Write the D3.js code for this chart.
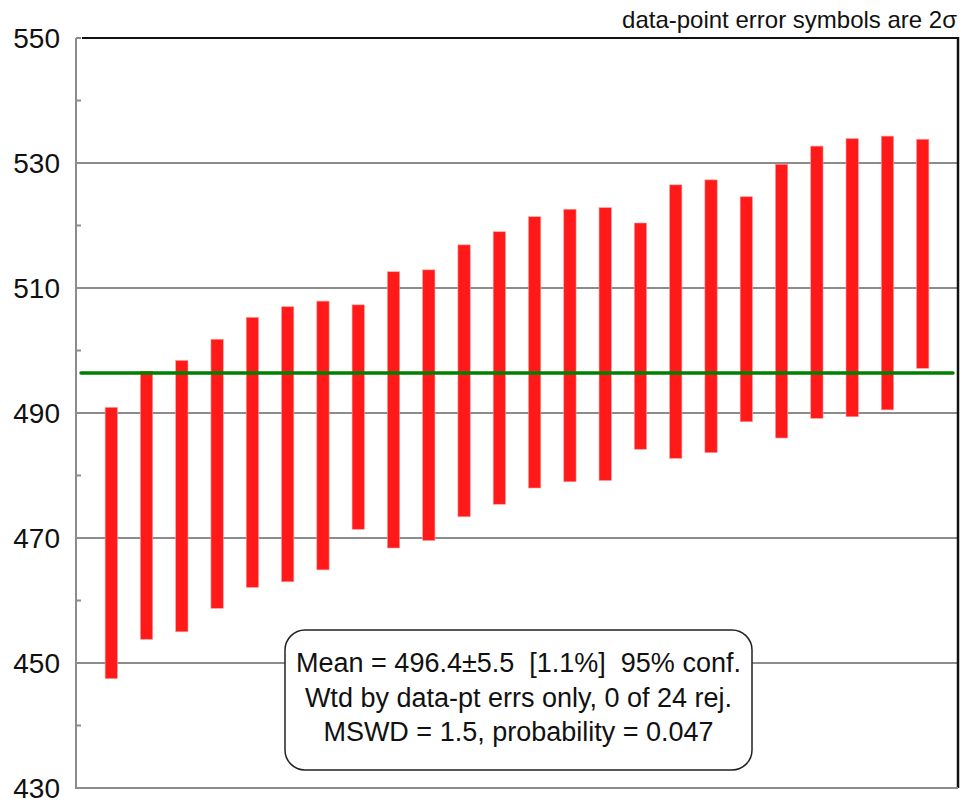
<!DOCTYPE html>
<html><head><meta charset="utf-8">
<script src="https://cdn.jsdelivr.net/npm/d3@7"></script>
<style>html,body{margin:0;padding:0;background:#fff;}svg{display:block;}</style>
</head><body>
<script>
const lows  = [447.5,453.8,455.0,458.75,462.1,463.0,464.9,471.4,468.4,469.6,473.4,475.4,478.0,479.0,479.2,484.2,482.75,483.65,488.6,486.0,489.15,489.4,490.5,497.15];
const highs = [490.9,496.7,498.4,501.8,505.3,507.0,507.9,507.3,512.6,512.9,516.9,519.0,521.4,522.6,522.85,520.4,526.5,527.3,524.6,529.8,532.7,533.9,534.3,533.8];
const majorTicks = [430,450,470,490,510,530,550];
const minorTicks = [440,460,480,500,520,540];
const meanValue = 496.4;
const boxLines = ["Mean = 496.4\u00b15.5  [1.1%]  95% conf.","Wtd by data-pt errs only, 0 of 24 rej.","MSWD = 1.5, probability = 0.047"];
const noteText = "data-point error symbols are 2\u03c3";

const W=964,H=803;
const L=76,R=958,T=38,B=788;
const svg=d3.select("body").append("svg").attr("width",W).attr("height",H);
const y=d3.scaleLinear().domain([430,550]).range([B,T]);
const x=d3.scaleLinear().domain([0,25]).range([L,R]);
const idx=d3.range(1,lows.length+1);
const FONT="Liberation Sans, Arial, sans-serif";

svg.append("g").selectAll("line").data(majorTicks.filter(d=>d>430&&d<550)).join("line")
  .attr("x1",L).attr("x2",R).attr("y1",d=>y(d)).attr("y2",d=>y(d))
  .attr("stroke","#8c8c8c").attr("stroke-width",2);
svg.append("g").selectAll("line").data(minorTicks).join("line")
  .attr("x1",L).attr("x2",L+5).attr("y1",d=>y(d)).attr("y2",d=>y(d))
  .attr("stroke","#8c8c8c").attr("stroke-width",2);
svg.append("line").attr("x1",L+6).attr("x2",R).attr("y1",T).attr("y2",T).attr("stroke","#111").attr("stroke-width",2);
svg.append("line").attr("x1",L).attr("x2",L+5).attr("y1",T).attr("y2",T).attr("stroke","#8c8c8c").attr("stroke-width",2);
svg.append("line").attr("x1",R).attr("x2",R).attr("y1",T-1).attr("y2",B).attr("stroke","#111").attr("stroke-width",2.5);
svg.append("line").attr("x1",L).attr("x2",L).attr("y1",T).attr("y2",B+1).attr("stroke","#8c8c8c").attr("stroke-width",2);
svg.append("line").attr("x1",L).attr("x2",R).attr("y1",B).attr("y2",B).attr("stroke","#8c8c8c").attr("stroke-width",2);

svg.append("g").selectAll("text").data(majorTicks).join("text")
  .attr("x",L-16).attr("y",d=>y(d)).attr("dy","0.36em").attr("text-anchor","end")
  .attr("font-family",FONT).attr("font-size",28).attr("fill","#111")
  .text(d=>d);

const bw=12.3;
svg.append("g").selectAll("rect").data(idx).join("rect")
  .attr("x",i=>x(i)-bw/2).attr("width",bw)
  .attr("y",i=>y(highs[i-1])).attr("height",i=>y(lows[i-1])-y(highs[i-1]))
  .attr("fill","#ff1919").attr("stroke","#ff9a9a").attr("stroke-width",0.6);

svg.append("line").attr("x1",L+5).attr("x2",R-5).attr("y1",y(meanValue)).attr("y2",y(meanValue))
  .attr("stroke","#008000").attr("stroke-width",3.5).attr("stroke-linecap","round");

svg.append("text").attr("x",R-1).attr("y",28).attr("text-anchor","end")
  .attr("font-family",FONT).attr("font-size",24).attr("fill","#111")
  .text(noteText);

const bx=285,by=630,bwid=467,bh=140;
svg.append("rect").attr("x",bx).attr("y",by).attr("width",bwid).attr("height",bh)
  .attr("rx",20).attr("ry",20).attr("fill","#fff").attr("stroke","#222").attr("stroke-width",1.5);
svg.append("g").selectAll("text").data(boxLines).join("text")
  .attr("x",bx+bwid/2).attr("y",(d,i)=>672+i*34.5).attr("text-anchor","middle")
  .attr("font-family",FONT).attr("font-size",27).attr("fill","#111")
  .style("white-space","pre").attr("xml:space","preserve")
  .text(d=>d);
</script>
</body></html>
